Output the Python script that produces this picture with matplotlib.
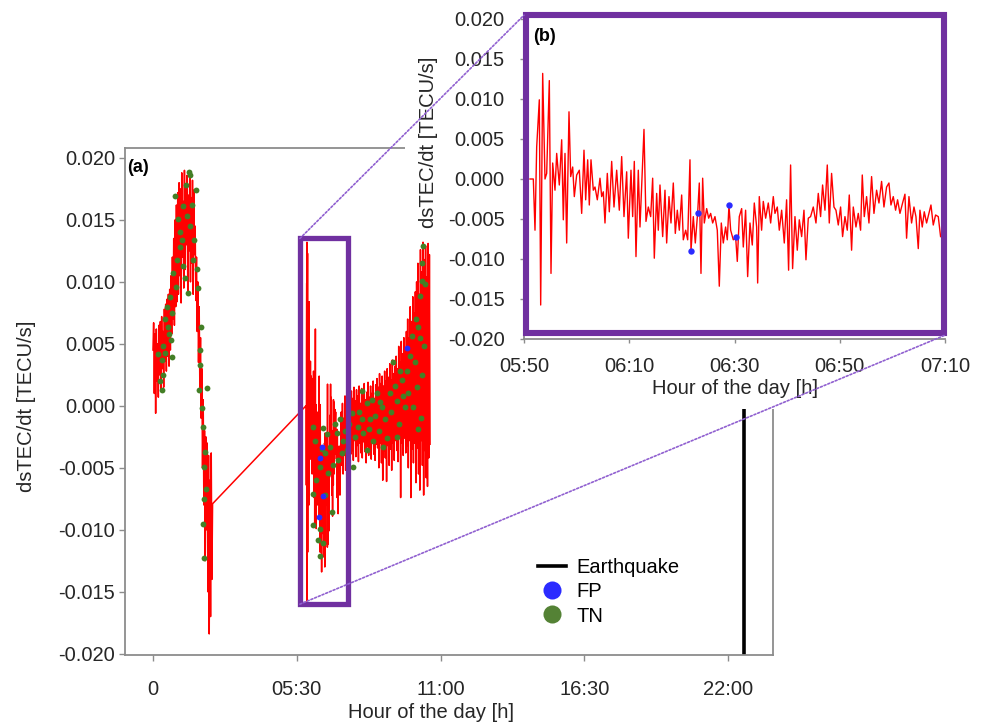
import numpy as np
import matplotlib
matplotlib.use('Agg')
import matplotlib.pyplot as plt
from matplotlib.patches import Rectangle, ConnectionPatch
from matplotlib.lines import Line2D
from matplotlib.ticker import FormatStrFormatter

plt.rcParams['font.family'] = ['Liberation Sans', 'DejaVu Sans']

# ---------------- data (values in 1e-3 TECU/s) ----------------
MILLI = 1e-3

# segment 1 of the day: 00:00 - 02:17 (uniform sampling)
seg1_start_h, seg1_end_h = 0.0, 2.28
seg1_mtecu = [4.5, 6.7, 1.0, 5.8, -0.6, 6.2, 2.0, 5.0, 0.7, 6.5, 2.5, 6.8,
              1.2, 7.2, 3.0, 6.0, 1.5, 7.8, 3.6, 8.2, 2.8, 8.6, 4.0, 9.0, 3.2, 9.4, 4.5,
              10.5, 5.8, 12.0, 7.0, 13.5, 6.5, 15.0, 8.0, 16.2, 8.4, 17.2, 9.0,
              18.0, 10.5, 17.5, 8.3, 18.8, 12.0, 16.5, 9.5, 19.0, 11.0, 17.8, 13.0,
              18.6, 9.2, 17.0, 12.5, 18.9, 10.0, 16.8, 11.5, 18.2, 9.0, 17.4, 12.2,
              14.5, 8.5, 12.0, 6.0, 10.0, 3.5, 8.0, 1.5,
              5.5, -1.0, 3.0, -5.0, 0.5, -8.0, -2.0, -12.5, -2.5, -10.0,
              -3.0, -15.0, -4.0, -18.4, -6.0, -17.0, -3.8, -14.0, -7.9]

# zoomed window (b): minutes after 05:50
inset_minutes = [1.14, 1.77, 2.09, 2.41, 2.91, 3.17, 3.55, 3.99, 4.31, 4.81,
                 5.13, 5.45, 5.89, 6.21, 6.71, 7.16, 7.47, 7.79, 8.11, 8.55,
                 8.87, 9.25, 9.56, 10.01, 10.51, 10.96, 11.40, 11.72, 12.10, 12.41,
                 12.73, 13.17, 13.49, 13.93, 14.44, 14.76, 15.07, 15.39, 15.83, 16.21,
                 16.66, 17.10, 17.61, 18.11, 18.56, 19.00, 19.51, 19.82, 20.33, 20.65,
                 20.96, 21.28, 21.72, 22.04, 22.36, 22.80, 23.18, 23.62, 24.07, 24.45,
                 24.76, 25.21, 25.52, 25.84, 26.35, 26.79, 27.11, 27.55, 27.93, 28.37,
                 28.75, 29.13, 29.51, 29.96, 30.27, 30.72, 31.10, 31.54, 31.73, 32.17,
                 32.55, 33.00, 33.31, 33.63, 33.95, 34.26, 34.71, 35.09, 35.47, 35.85,
                 36.29, 36.73, 37.11, 37.49, 37.87, 38.31, 38.63, 38.95, 39.27, 39.77,
                 40.22, 40.53, 40.91, 41.36, 41.67, 42.11, 42.50, 42.94, 43.38, 43.76,
                 44.21, 44.40, 44.71, 45.15, 45.47, 45.92, 46.42, 46.87, 47.37, 47.69,
                 48.13, 48.51, 48.96, 49.46, 49.90, 50.28, 50.66, 51.04, 51.49, 51.93,
                 52.31, 52.76, 53.20, 53.58, 54.02, 54.46, 54.97, 55.48, 55.92, 56.36,
                 56.74, 57.19, 57.63, 58.01, 58.45, 58.90, 59.28, 59.72, 60.16, 60.54,
                 60.99, 61.43, 61.81, 62.25, 62.57, 63.08, 63.52, 63.96, 64.28, 64.66,
                 65.10, 65.55, 66.05, 66.50, 67.00, 67.45, 67.95, 68.40, 68.90, 69.35,
                 69.73, 70.17, 70.61, 70.99, 71.44, 71.94, 72.39, 72.70, 73.15, 73.65,
                 74.10, 74.48, 74.92, 75.24, 75.68, 76.06, 76.50, 76.95, 77.33, 77.77,
                 78.21, 78.72, 79.16]
inset_mtecu = [0.0, 0.0, -6.4, 4.0, 9.9, -15.75, 13.2, 0.0, 0.7, 12.3,
               -11.8, 2.0, -1.4, 3.2, -0.75, 4.9, -5.1, 3.2, -8.0, 8.4,
               0.3, 1.5, -2.2, 0.5, 1.1, -4.3, 3.6, -2.6, 2.4, -3.25,
               2.4, -1.4, -1.0, -2.6, 0.1, -2.2, -1.6, -5.5, 0.7, -4.1,
               2.2, -3.5, 1.1, -3.9, 2.8, -4.7, 0.9, -7.4, 1.1, -4.7,
               2.2, -9.7, 1.1, -6.0, -1.0, 6.2, -5.3, -3.5, -4.7, 0.1,
               -9.9, -1.8, -6.4, -0.75, -7.2, -1.4, -8.0, -2.2, -5.5, -0.5,
               -6.8, -3.9, -6.4, -2.0, -7.6, -6.4, -7.6, 2.4, -9.0, -4.7,
               -8.0, -4.2, -0.5, -11.8, 0.1, -5.5, -3.7, -4.9, -4.3, -5.5,
               -4.7, -6.4, -13.4, -5.5, -8.0, -6.0, -7.6, -3.3, -6.4, -7.6,
               -7.3, -10.3, -4.7, -3.7, -8.5, -3.9, -12.2, -5.5, -8.25, -3.0,
               -6.0, -13.0, -2.2, -6.4, -2.8, -4.9, -3.0, -5.5, -2.2, -4.3,
               -3.5, -6.4, -3.9, -8.0, -2.6, -11.4, 1.75, -11.2, -4.7, -8.9,
               -5.1, -7.2, -3.9, -10.1, -4.9, -4.7, -3.5, -5.5, -1.8, -4.7,
               -0.75, -3.9, 1.75, -5.5, 0.7, -3.5, -3.9, -5.75, -3.5, -7.2,
               -4.7, -6.4, -2.0, -8.9, -3.5, -6.0, -4.3, -6.4, 0.5, -4.7,
               -2.2, -5.5, 0.3, -4.3, -1.4, -3.0, -0.3, -3.5, -1.0, -0.5,
               -3.25, -2.2, -3.9, -2.6, -4.3, -3.0, -1.9, -7.4, -2.2, -5.5,
               -3.5, -4.7, -8.7, -3.9, -6.0, -4.1, -5.5, -4.3, -3.25, -5.75,
               -4.5, -4.7, -7.2]

# segment 2 continuation: 07:12 - 10:36 (uniform sampling)
seg2_start_h, seg2_end_h = 7.2, 10.6
seg2_mtecu = [-0.5, -4.8, 0.2, -5.5, -1.0, -4.0, 0.8, -5.2, -0.8, -3.5, 1.0, -4.6, 0.3, -5.8, 0.9, -3.9,
              1.2, -3.6, 0.6, -4.4, 1.5, -2.8, 0.4, -4.1, 1.3, -3.2, 0.8, -4.5, 1.6, -3.0, 0.2, -3.8,
              1.4, -4.2, 0.9, -2.9, 1.8, -3.7, 0.5, -4.6, 1.1, -3.3, 1.9, -4.0, 0.7, -3.5, 1.6, -4.3,
              1.0, -2.7, 2.0, -3.9, 0.6, -4.4, 1.7, -3.1,
              2.2, -3.4, 1.5, -5.0, 2.6, -3.0, 1.8, -4.6, 2.4, -6.0, 1.6, -3.6, 2.8, -4.2, 2.0, -6.1,
              3.0, -3.2, 2.3, -4.8, 3.4, -3.5, 2.1, -5.2, 3.7, -3.0, 2.6, -4.4, 3.2,
              -2.8, 4.0, -3.6, 3.0, -4.5, 4.8, -2.5, 3.5, -7.4, 5.2, -3.0, 4.2, -4.0, 5.5, -2.6, 4.6, -3.8,
              6.0, -3.2, 7.0, -5.0, 5.5, -2.8, 8.0, -7.4, 6.8, -3.5, 8.8, -4.6, 7.5, -3.0, 9.2, -6.2,
              10.0, -3.4, 11.5, -5.5, 9.0, -6.8, 12.6, -2.8, 10.8, -4.8, 13.2, -7.2, 11.8, -3.6,
              12.9, -5.8, 10.4, -6.5, 13.1, -4.2, 12.2, -3.1]

# FP detections (minutes after 05:50) and TN detections (hours)
fp_minutes = [31.73, 33.00, 38.95, 40.22, 233.2]
fp_mtecu = [-9.0, -4.2, -3.3, -7.3, 4.7]

tn_hours = [0.84, 1.39, 1.43, 1.64, 1.16, 0.97, 1.42, 1.29, 1.10, 1.03, 0.91, 0.78, 1.16, 1.54,
            1.67, 1.73, 1.35, 1.22, 0.65, 0.52, 0.71, 0.46, 0.59, 0.68, 0.39, 0.71, 0.33, 0.46,
            0.37, 0.33, 1.82, 1.80, 1.80, 1.77, 2.05, 1.86, 1.93, 1.99, 1.95, 2.01, 1.95, 1.93,
            1.95, 1.05, 1.25, 1.50, 1.58, 0.88, 0.60, 0.25, 0.20,
            6.13, 6.20, 6.52, 6.77, 6.58, 6.39, 6.71, 6.13, 6.58, 6.84, 6.13, 6.39, 6.52, 6.39,
            7.03, 7.15, 7.22, 7.09, 7.28, 7.60, 7.66, 7.98, 7.85, 8.18, 8.30, 8.56, 8.43, 8.75,
            8.88, 9.07, 9.19, 9.32, 9.51, 9.64, 9.83, 10.02, 10.15, 10.21, 10.28, 10.34, 10.15,
            9.96, 9.77, 10.28, 10.21, 9.32, 8.18, 8.81, 7.98, 7.41,
            7.35, 7.50, 7.72, 7.90, 8.05, 8.25, 8.38, 8.50, 8.65, 8.70, 8.95, 9.10, 9.25, 9.40,
            9.45, 9.58, 9.70, 9.90, 10.05, 10.10, 10.25, 10.35, 10.40, 10.30, 6.90, 6.95, 6.65,
            6.45, 6.25, 6.30]
tn_mtecu = [16.9, 18.9, 18.6, 17.4, 16.1, 15.1, 14.5, 15.3, 13.4, 12.8, 11.8, 10.7, 11.3, 11.8,
            11.0, 9.5, 9.1, 10.3, 8.8, 8.0, 7.5, 7.0, 6.4, 5.3, 4.8, 3.9, 3.7, 4.3,
            2.5, 1.3, 6.4, 4.5, 3.3, 1.3, 1.4, -0.2, -1.7, -3.7, -4.9, -6.7, -7.5, -9.5,
            -12.3, 14.0, 17.8, 16.2, 13.4, 9.6, 5.8, 2.0, 4.2,
            -1.7, -2.8, -1.8, -3.3, -3.8, -4.9, -5.4, -7.1, -7.2, -8.6, -9.6, -9.9, -11.1, -12.1,
            -2.2, -1.1, -3.8, -4.4, -2.8, -0.6, -4.9, 1.2, -1.7, 0.2, -1.1, 1.0, -2.8, -0.1,
            -1.1, 1.0, 3.5, 0.4, 2.1, -0.1, 4.0, 3.5, 6.4, 8.9, 10.1, 12.9, -1.9,
            -0.1, 1.0, 2.5, 5.5, -2.5, -3.6, -3.3, -1.1, -3.6,
            -2.0, -1.5, -2.5, -0.5, -2.2, -1.9, 0.5, -0.8, -2.0, 0.3, -2.6, -0.5, 1.6, -1.5,
            2.8, 0.8, 2.8, 5.6, 7.0, 1.5, -1.0, 4.8, 9.8, 11.5, -4.8, -1.5, -2.3,
            -3.5, -6.0, -10.8]

earthquake_h = 22.6

main_xticks = [0, 5.5, 11, 16.5, 22]
main_xticklabels = ['0', '05:30', '11:00', '16:30', '22:00']
yticks = [-0.020, -0.015, -0.010, -0.005, 0.0, 0.005, 0.010, 0.015, 0.020]
inset_xticks_min = [0, 20, 40, 60, 80]
inset_xticklabels = ['05:50', '06:10', '06:30', '06:50', '07:10']
INSET_T0_H = 5 + 50 / 60

# highlight box on panel (a)
box_x = (5.62, 7.46)
box_y = (-0.0160, 0.0135)

# ---------------- derived series ----------------
seg1_t = np.linspace(seg1_start_h, seg1_end_h, len(seg1_mtecu))
seg2_t = np.linspace(seg2_start_h, seg2_end_h, len(seg2_mtecu))
inset_t = INSET_T0_H + np.array(inset_minutes) / 60.0
main_t = np.concatenate([seg1_t, inset_t, seg2_t])
main_v = np.concatenate([seg1_mtecu, inset_mtecu, seg2_mtecu]) * MILLI
fp_t = INSET_T0_H + np.array(fp_minutes) / 60.0
fp_v = np.array(fp_mtecu) * MILLI
tn_t = np.array(tn_hours)
tn_v = np.array(tn_mtecu) * MILLI

RED = '#ff0000'
GREEN = '#437f26'
BLUE = '#2b2bff'
PURPLE = '#7030a0'
LPURPLE = '#9060d0'
GREY = '#8c8c8c'
TXT = '#262626'
FS = 14.5

W, H = 983, 724
fig = plt.figure(figsize=(W / 100, H / 100), dpi=100)


def fig_box(x0, y0, x1, y1):
    return [x0 / W, 1 - y1 / H, (x1 - x0) / W, (y1 - y0) / H]


# ---------------- panel (a) ----------------
ax = fig.add_axes(fig_box(125, 148, 773, 655))
ax.plot(main_t, main_v, color=RED, lw=1.1, zorder=2)
ax.plot(tn_t, tn_v, 'o', color=GREEN, ms=4.2, mew=0, zorder=3)
ax.plot(fp_t, fp_v, 'o', color=BLUE, ms=4.2, mew=0, zorder=4)
ax.axvline(earthquake_h, color='black', lw=2.6, zorder=2)
ax.add_patch(Rectangle((box_x[0], box_y[0]), box_x[1] - box_x[0], box_y[1] - box_y[0],
                       fill=False, ec=PURPLE, lw=3.8, zorder=5))
ax.set_xlim(-1.07, 23.72)
ax.set_ylim(-0.0201, 0.0208)
ax.set_xticks(main_xticks)
ax.set_xticklabels(main_xticklabels)
ax.set_yticks(yticks)
ax.yaxis.set_major_formatter(FormatStrFormatter('%.3f'))
for s in ax.spines.values():
    s.set_color(GREY)
    s.set_linewidth(1.3)
ax.tick_params(axis='both', colors=GREY, labelcolor=TXT, labelsize=FS, length=4, width=1)
ax.tick_params(axis='x', pad=14)
ax.tick_params(axis='y', pad=3)
ax.set_xlabel('Hour of the day [h]', fontsize=FS, color=TXT)
ax.xaxis.set_label_coords(0.472, -0.094)
ax.set_ylabel('dsTEC/dt [TECU/s]', fontsize=FS, color=TXT)
ax.yaxis.set_label_coords(-0.138, 0.49)
ax.text(0.004, 0.962, '(a)', transform=ax.transAxes, fontsize=13, fontweight='bold',
        color='black', va='center', ha='left')

handles = [Line2D([], [], color='black', lw=2.6),
           Line2D([], [], ls='none', marker='o', color=BLUE, ms=13, mew=0),
           Line2D([], [], ls='none', marker='o', color='#548235', ms=13, mew=0)]
ax.legend(handles, ['Earthquake', 'FP', 'TN'], loc='upper left',
          bbox_to_anchor=(0.637, 0.192), frameon=False, fontsize=FS,
          handlelength=1.4, handletextpad=0.5, labelspacing=0.27, borderaxespad=0,
          borderpad=0)

# white covers behind the zoomed panel
for box in [(405, 0, 983, 232), (440, 232, 983, 409)]:
    r = fig_box(*box)
    fig.add_artist(Rectangle((r[0], r[1]), r[2], r[3], transform=fig.transFigure,
                             fc='white', ec='none', zorder=0.5))

# ---------------- panel (b) ----------------
axin = fig.add_axes(fig_box(524, 19, 945, 339))
axin.set_zorder(1)
axin.plot(inset_t, np.array(inset_mtecu) * MILLI, color=RED, lw=1.0, zorder=2)
axin.plot(fp_t, fp_v, 'o', color=BLUE, ms=4.6, mew=0, zorder=3)
axin.set_xlim(INSET_T0_H, INSET_T0_H + 80 / 60)
axin.set_ylim(-0.020, 0.020)
axin.set_xticks([INSET_T0_H + m / 60 for m in inset_xticks_min])
axin.set_xticklabels(inset_xticklabels)
axin.set_yticks(yticks)
axin.yaxis.set_major_formatter(FormatStrFormatter('%.3f'))
for side in ['top', 'right']:
    axin.spines[side].set_visible(False)
for side in ['left', 'bottom']:
    axin.spines[side].set_color(GREY)
    axin.spines[side].set_linewidth(1.3)
axin.tick_params(axis='both', colors=GREY, labelcolor=TXT, labelsize=FS, length=3, width=1)
axin.tick_params(axis='x', pad=10)
axin.tick_params(axis='y', pad=11)
axin.set_xlabel('Hour of the day [h]', fontsize=FS, color=TXT)
axin.xaxis.set_label_coords(0.5, -0.125)
axin.set_ylabel('dsTEC/dt [TECU/s]', fontsize=FS, color=TXT)
axin.yaxis.set_label_coords(-0.205, 0.615)
frame = Rectangle((0.005, 0.018), 0.993, 0.9945, transform=axin.transAxes, fill=False,
                  ec=PURPLE, lw=4.4, clip_on=False, zorder=6)
axin.add_patch(frame)
axin.text(0.022, 0.944, '(b)', transform=axin.transAxes, fontsize=13, fontweight='bold',
          color='black', va='center', ha='left')

# dotted connectors
for xa, ya, xb, yb in [(box_x[0], box_y[1], 0.0, 1.012), (box_x[0], box_y[0], 1.0, 0.012)]:
    con = ConnectionPatch(xyA=(xa, ya), coordsA=ax.transData, xyB=(xb, yb),
                          coordsB=axin.transAxes, color=LPURPLE, lw=1.2, ls=(0, (1.2, 1.2)))
    con.set_zorder(7)
    fig.add_artist(con)

fig.savefig('out.png', dpi=100)
